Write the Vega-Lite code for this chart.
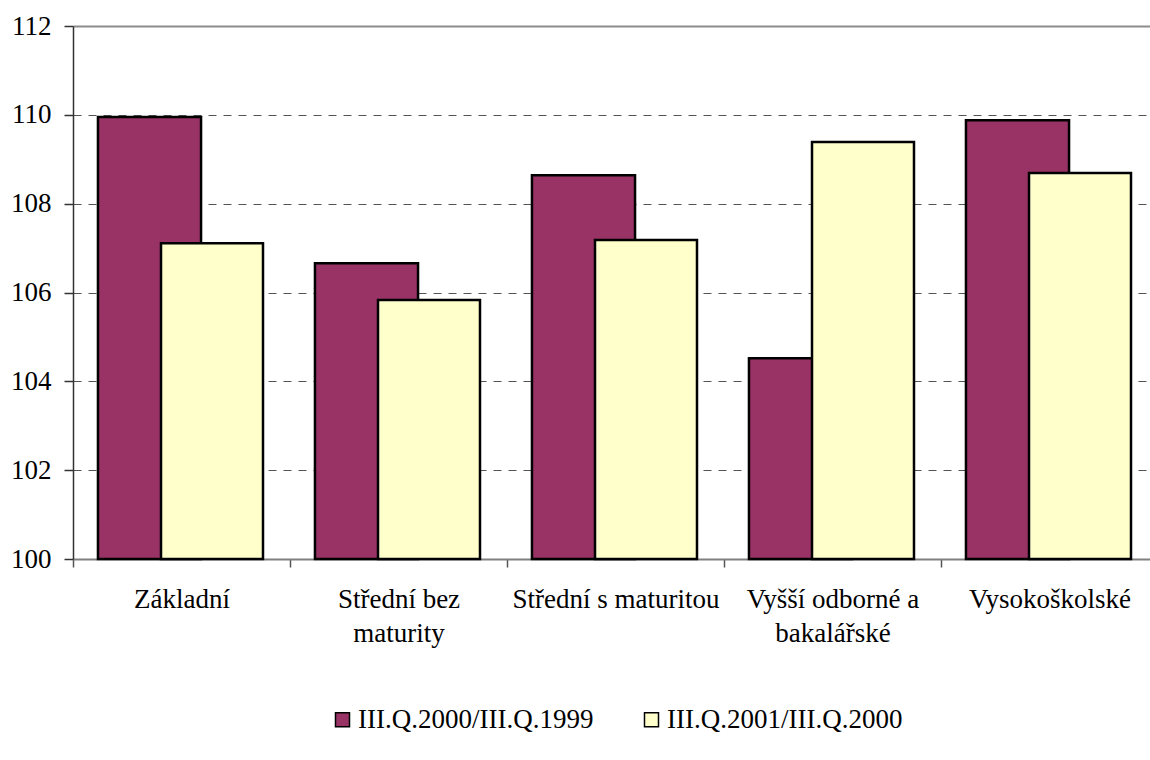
{
  "$schema": "https://vega.github.io/schema/vega-lite/v6.json",
  "width": 1085,
  "height": 533,
  "padding": {"left": 10, "top": 12, "right": 0, "bottom": 0},
  "background": "white",
  "config": {
    "view": {"stroke": null},
    "font": "'Liberation Serif', 'Times New Roman', serif",
    "legend": {"layout": {"bottom": {"anchor": "middle"}}}
  },
  "data": {
    "values": [
      {"kategorie": "Základní", "obdobi": "III.Q.2000/III.Q.1999", "hodnota": 109.95},
      {"kategorie": "Základní", "obdobi": "III.Q.2001/III.Q.2000", "hodnota": 107.11},
      {"kategorie": "Střední bez maturity", "obdobi": "III.Q.2000/III.Q.1999", "hodnota": 106.66},
      {"kategorie": "Střední bez maturity", "obdobi": "III.Q.2001/III.Q.2000", "hodnota": 105.83},
      {"kategorie": "Střední s maturitou", "obdobi": "III.Q.2000/III.Q.1999", "hodnota": 108.64},
      {"kategorie": "Střední s maturitou", "obdobi": "III.Q.2001/III.Q.2000", "hodnota": 107.18},
      {"kategorie": "Vyšší odborné a bakalářské", "obdobi": "III.Q.2000/III.Q.1999", "hodnota": 104.52},
      {"kategorie": "Vyšší odborné a bakalářské", "obdobi": "III.Q.2001/III.Q.2000", "hodnota": 109.39},
      {"kategorie": "Vysokoškolské", "obdobi": "III.Q.2000/III.Q.1999", "hodnota": 109.88},
      {"kategorie": "Vysokoškolské", "obdobi": "III.Q.2001/III.Q.2000", "hodnota": 108.69}
    ]
  },
  "encoding": {
    "x": {
      "field": "kategorie",
      "type": "nominal",
      "sort": null,
      "title": null,
      "scale": {"paddingInner": 0, "paddingOuter": 0},
      "axis": {
        "tickBand": "extent",
        "labelAngle": 0,
        "labelFont": "'Liberation Serif', 'Times New Roman', serif",
        "labelFontSize": 27,
        "labelColor": "black",
        "labelPadding": 19,
        "labelLineHeight": 34,
        "labelLimit": 400,
        "labelExpr": "datum.label == 'Střední bez maturity' ? ['Střední bez', 'maturity'] : datum.label == 'Vyšší odborné a bakalářské' ? ['Vyšší odborné a', 'bakalářské'] : datum.label",
        "tickSize": 8,
        "tickColor": "#555555",
        "tickWidth": 1.5,
        "domainColor": "#808080",
        "domainWidth": 2,
        "grid": false
      }
    },
    "y": {
      "field": "hodnota",
      "type": "quantitative",
      "title": null,
      "scale": {"domain": [100, 112], "zero": false, "nice": false},
      "axis": {
        "values": [100, 102, 104, 106, 108, 110, 112],
        "format": "d",
        "labelFont": "'Liberation Serif', 'Times New Roman', serif",
        "labelFontSize": 27,
        "labelColor": "black",
        "labelPadding": 13,
        "tickSize": 9,
        "tickColor": "#333333",
        "tickWidth": 1.5,
        "domainColor": "#333333",
        "domainWidth": 1.5,
        "grid": true,
        "gridColor": {"condition": {"test": "datum.value == 112", "value": "#8c8c8c"}, "value": "#555555"},
        "gridWidth": {"condition": {"test": "datum.value == 112", "value": 2}, "value": 1.2},
        "gridDash": {"condition": {"test": "datum.value == 112", "value": []}, "value": [8, 7]}
      }
    },
    "y2": {"datum": 100},
    "color": {
      "field": "obdobi",
      "type": "nominal",
      "scale": {
        "domain": ["III.Q.2000/III.Q.1999", "III.Q.2001/III.Q.2000"],
        "range": ["#993366", "#FFFFCC"]
      },
      "legend": {
        "title": null,
        "orient": "bottom",
        "direction": "horizontal",
        "symbolType": "square",
        "symbolSize": 196,
        "symbolStrokeColor": "black",
        "symbolStrokeWidth": 1.5,
        "symbolOpacity": 1,
        "labelFont": "'Liberation Serif', 'Times New Roman', serif",
        "labelFontSize": 27,
        "labelColor": "black",
        "labelLimit": 400,
        "labelOffset": 2,
        "columnPadding": 44,
        "offset": 60
      }
    }
  },
  "layer": [
    {
      "transform": [{"filter": "datum.obdobi == 'III.Q.2000/III.Q.1999'"}],
      "mark": {"type": "bar", "width": {"band": 0.475}, "xOffset": -32, "stroke": "black", "strokeWidth": 2.5, "opacity": 1}
    },
    {
      "transform": [{"filter": "datum.obdobi == 'III.Q.2001/III.Q.2000'"}],
      "mark": {"type": "bar", "width": {"band": 0.47}, "xOffset": 30.5, "stroke": "black", "strokeWidth": 2.5, "opacity": 1}
    }
  ]
}
